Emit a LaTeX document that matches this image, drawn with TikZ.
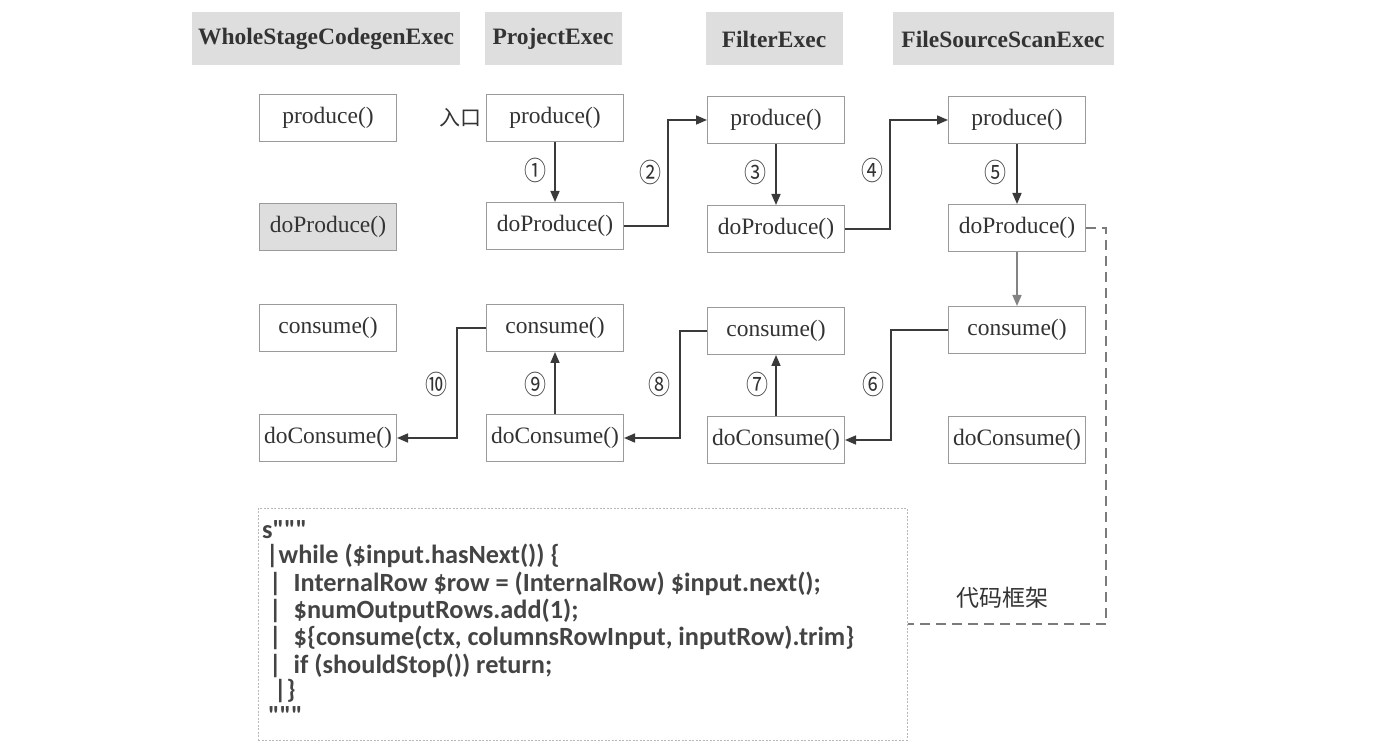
\documentclass[tikz,border=0pt]{standalone}
\usepackage{fontspec}
\setmainfont{Liberation Serif}
\newfontfamily\cjk{Noto Sans CJK SC}
\newfontfamily\codefont{Carlito}
\usetikzlibrary{arrows.meta}
\definecolor{hdrgray}{HTML}{DEDEDE}
\definecolor{boxgray}{HTML}{9A9A9A}
\definecolor{txt}{HTML}{333333}
\definecolor{linec}{HTML}{3A3A3A}
\definecolor{codec}{HTML}{444444}
\newcommand{\circnum}[1]{\scalebox{1}[1.2]{#1}}
\begin{document}
\begin{tikzpicture}[x=1pt,y=-1pt,
  hdr/.style={fill=hdrgray, minimum height=53pt, inner sep=0pt, text=txt,
    font=\fontsize{23.5}{23.5}\selectfont\bfseries},
  fnbox/.style={draw=boxgray, line width=1pt, minimum width=137pt, minimum height=47pt,
    inner sep=0pt, text=txt, fill=white, font=\fontsize{23.5}{23.5}\selectfont},
  conn/.style={draw=linec, line width=1.6pt, -{Triangle[length=11pt,width=9pt]}},
  num/.style={text=txt, inner sep=0pt, font=\cjk\fontsize{22}{22}\selectfont},
  codeline/.style={anchor=base west, inner sep=0pt, text=codec,
    font=\codefont\bfseries\fontsize{26.3}{26.3}\selectfont},
  dashedconn/.style={draw=boxgray!80!black, line width=1.5pt, dash pattern=on 10pt off 6pt},
]
\useasboundingbox (0,0) rectangle (1374,751);
% headers
\node[hdr, minimum width=268pt] (h1) at (326,39) {WholeStageCodegenExec};
\node[hdr, minimum width=137pt] (h2) at (553,39) {ProjectExec};
\node[hdr, minimum width=137pt] (h3) at (774,39) {FilterExec};
\node[hdr, minimum width=221pt] (h4) at (1003,39) {FileSourceScanExec};
% column 1
\node[fnbox] (p1) at (328,118) {produce()};
\node[fnbox, fill=hdrgray] (dp1) at (328,227) {doProduce()};
\node[fnbox] (c1) at (328,328) {consume()};
\node[fnbox] (dc1) at (328,438) {doConsume()};
% column 2
\node[fnbox] (p2) at (555,118) {produce()};
\node[fnbox] (dp2) at (555,226) {doProduce()};
\node[fnbox] (c2) at (555,328) {consume()};
\node[fnbox] (dc2) at (555,438) {doConsume()};
% column 3
\node[fnbox] (p3) at (776,120) {produce()};
\node[fnbox] (dp3) at (776,229) {doProduce()};
\node[fnbox] (c3) at (776,331) {consume()};
\node[fnbox] (dc3) at (776,440) {doConsume()};
% column 4
\node[fnbox] (p4) at (1017,120) {produce()};
\node[fnbox] (dp4) at (1017,228) {doProduce()};
\node[fnbox] (c4) at (1017,330) {consume()};
\node[fnbox] (dc4) at (1017,440) {doConsume()};
% entry label
\node[text=txt, inner sep=0pt, font=\cjk\fontsize{21}{21}\selectfont] (entry) at (460,118) {入口};
% bend coordinates
\coordinate (k2) at (668,0);
\coordinate (k4) at (890,0);
\coordinate (k6) at (891,0);
\coordinate (k8) at (680,0);
\coordinate (k10) at (457,0);
\coordinate (kd) at (1106,0);
% produce chain
\draw[conn] (p2) -- (dp2);
\draw[conn] (dp2.east) -- (dp2.east -| k2) |- (p3.west);
\draw[conn] (p3) -- (dp3);
\draw[conn] (dp3.east) -- (dp3.east -| k4) |- (p4.west);
\draw[conn] (p4) -- (dp4);
\draw[conn, draw=boxgray!85!black] (dp4) -- (c4);
% consume chain
\draw[conn] (c4.west) -- (c4.west -| k6) |- (dc3.east);
\draw[conn] (dc3) -- (c3);
\draw[conn] (c3.west) -- (c3.west -| k8) |- (dc2.east);
\draw[conn] (dc2) -- (c2);
\draw[conn] (c2.west) -- (c2.west -| k10) |- (dc1.east);
% numbers
\node[num] (n1) at (535,170) {\circnum{①}};
\node[num] (n2) at (650,172) {\circnum{②}};
\node[num] (n3) at (755,172) {\circnum{③}};
\node[num] (n4) at (872,170) {\circnum{④}};
\node[num] (n5) at (995,172) {\circnum{⑤}};
\node[num] (n6) at (873,384) {\circnum{⑥}};
\node[num] (n7) at (757,384) {\circnum{⑦}};
\node[num] (n8) at (659,384) {\circnum{⑧}};
\node[num] (n9) at (535,384) {\circnum{⑨}};
\node[num] (n10) at (436,384) {\circnum{⑩}};
% code box
\node[draw=boxgray!70, line width=1pt, dash pattern=on 2pt off 1.5pt,
  minimum width=649pt, minimum height=232pt, inner sep=0pt] (code) at (582.5,624) {};
\node[codeline] (l1) at (262,538) {s"""};
\node[codeline] (l2) at (266,563) {|while (\$input.hasNext()) \{};
\node[codeline] (l3) at (269,591) {|\hspace{12pt}InternalRow \$row = (InternalRow) \$input.next();};
\node[codeline] (l4) at (269,618) {|\hspace{12pt}\$numOutputRows.add(1);};
\node[codeline] (l5) at (269,645) {|\hspace{12pt}\$\{consume(ctx, columnsRowInput, inputRow).trim\}};
\node[codeline] (l6) at (269,673) {|\hspace{12pt}if (shouldStop()) return;};
\node[codeline] (l7) at (274,698) {|\}};
\node[codeline] (l8) at (268,724) {"""};
% code frame label and dashed connector
\node[text=txt, inner sep=0pt, font=\cjk\fontsize{23}{23}\selectfont] (frame) at (1002,598) {代码框架};
\draw[dashedconn] (dp4.east) -- (dp4.east -| kd) |- (code.east);
\end{tikzpicture}
\end{document}
